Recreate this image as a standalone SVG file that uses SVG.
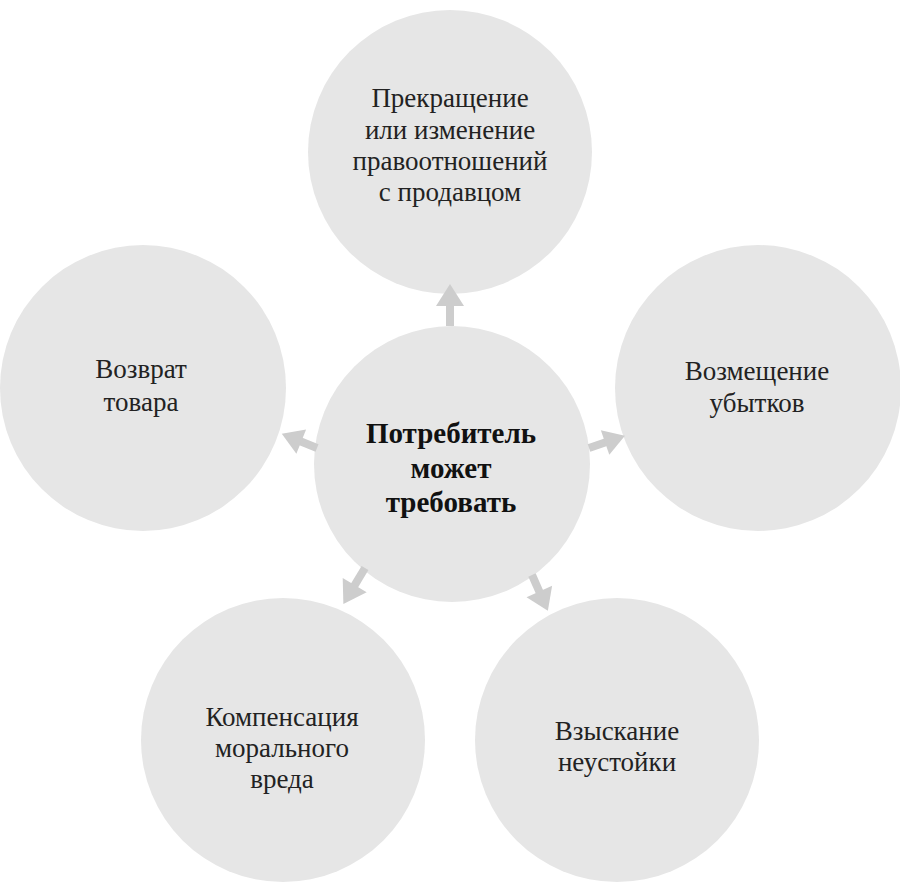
<svg xmlns="http://www.w3.org/2000/svg" width="900" height="886" viewBox="0 0 900 886">
<style>
.c{fill:#e6e6e6}
.t{font-family:"Liberation Serif",serif;font-size:27px;fill:#222;text-anchor:middle}
.b{font-weight:bold;font-size:29px;fill:#111}
.a{stroke:#cdcdcd;stroke-width:8}
.h{fill:#cdcdcd}
</style>
<rect width="900" height="886" fill="#fff"/>
<g id="top"><circle class="c" cx="450" cy="152" r="142"/>
<text class="t" x="450" y="107">Прекращение</text><text class="t" x="450" y="139">или изменение</text><text class="t" x="450" y="170">правоотношений</text><text class="t" x="450" y="201">с продавцом</text></g>
<g id="left"><circle class="c" cx="143" cy="388" r="143"/>
<text class="t" x="141" y="378">Возврат</text><text class="t" x="141" y="411">товара</text></g>
<g id="right"><circle class="c" cx="758" cy="388" r="143"/>
<text class="t" x="757" y="380">Возмещение</text><text class="t" x="757" y="412">убытков</text></g>
<g id="bl"><circle class="c" cx="283" cy="740" r="142"/>
<text class="t" x="282" y="726">Компенсация</text><text class="t" x="282" y="757">морального</text><text class="t" x="282" y="788">вреда</text></g>
<g id="br"><circle class="c" cx="617" cy="740" r="142"/>
<text class="t" x="617" y="740">Взыскание</text><text class="t" x="617" y="771">неустойки</text></g>
<g id="center"><circle class="c" cx="452" cy="464" r="138"/>
<text class="t b" x="451" y="443">Потребитель</text><text class="t b" x="451" y="478">может</text><text class="t b" x="451" y="512">требовать</text></g>
<g id="connectors">
<g transform="translate(450,326) rotate(-90)"><line class="a" x1="0" y1="0" x2="22" y2="0"/><polygon class="h" points="42,0 20,-14 20,14"/></g>
<g transform="translate(317,448) rotate(-158)"><line class="a" x1="0" y1="0" x2="20" y2="0"/><polygon class="h" points="38,0 17,-13 17,13"/></g>
<g transform="translate(589,448) rotate(-19)"><line class="a" x1="0" y1="0" x2="20" y2="0"/><polygon class="h" points="38,0 17,-13 17,13"/></g>
<g transform="translate(365,568) rotate(121)"><line class="a" x1="0" y1="0" x2="22" y2="0"/><polygon class="h" points="42,0 20,-14 20,14"/></g>
<g transform="translate(532,575) rotate(66)"><line class="a" x1="0" y1="0" x2="20" y2="0"/><polygon class="h" points="39,0 18,-14 18,14"/></g>
</g>
</svg>
